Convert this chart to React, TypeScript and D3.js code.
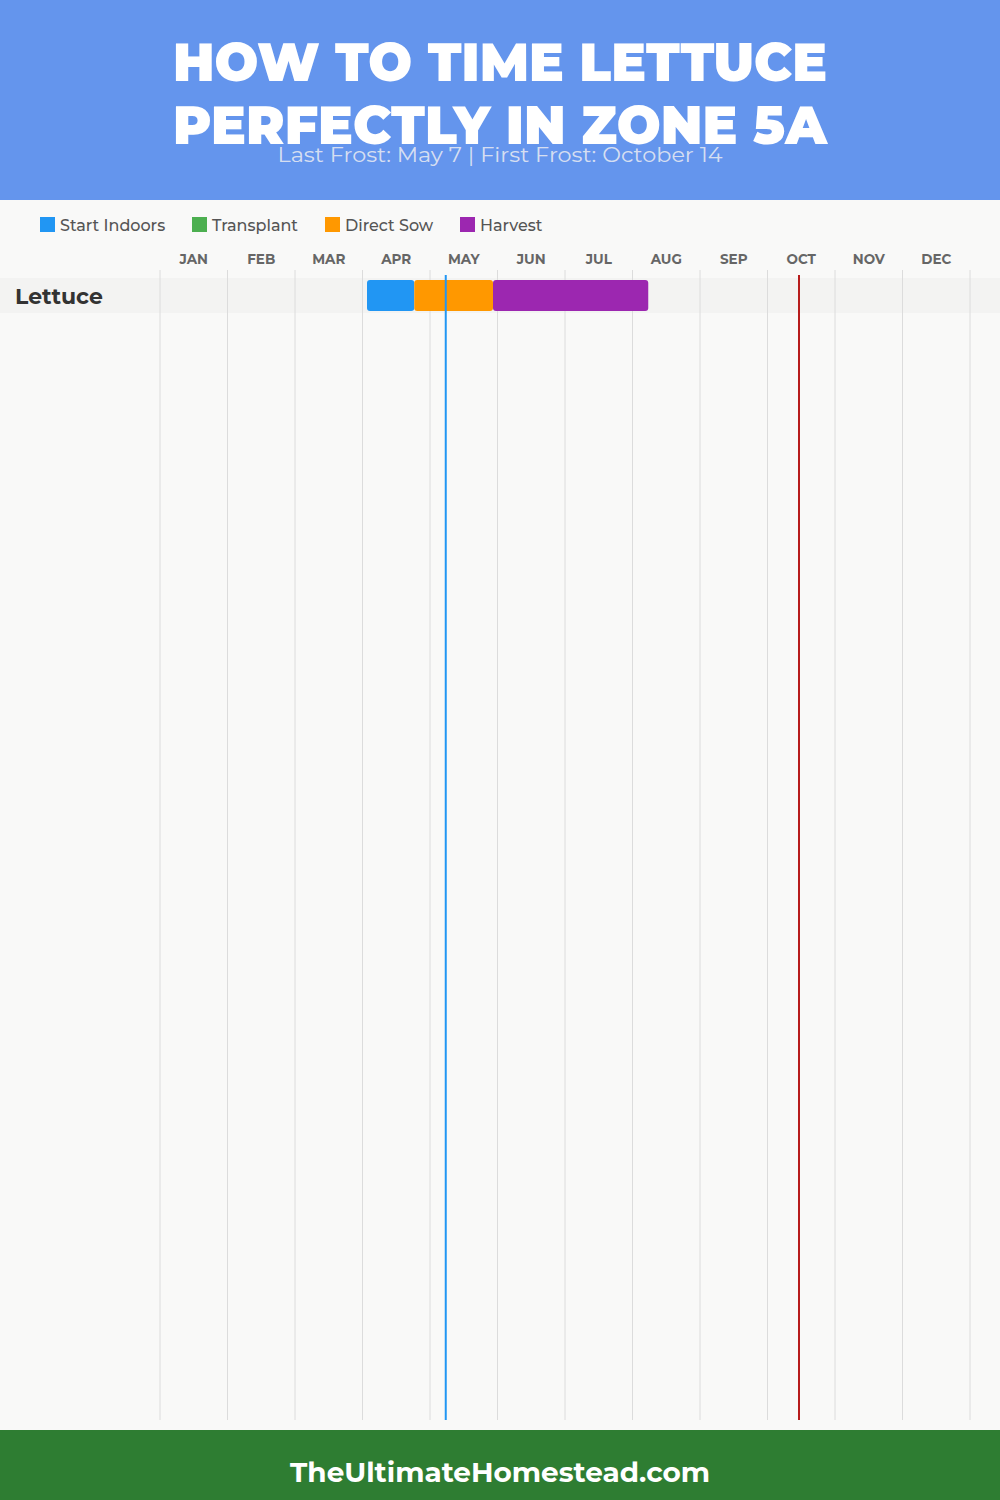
import React from "react";
import * as d3 from "d3";

const months = ["JAN","FEB","MAR","APR","MAY","JUN","JUL","AUG","SEP","OCT","NOV","DEC"];
const legendItems = ["Start Indoors", "Transplant", "Direct Sow", "Harvest"];
const legendColors = ["#2196F3", "#4CAF50", "#FF9800", "#9C27B0"];
const crops = ["Lettuce"];
// [crop, phase, startMonth, startDay, endMonth, endDay]
const phases: [string, string, number, number, number, number][] = [
  ["Lettuce", "Start Indoors", 4, 2, 4, 23],
  ["Lettuce", "Direct Sow", 4, 23, 5, 28],
  ["Lettuce", "Harvest", 5, 28, 8, 7],
];
const lastFrost: [number, number] = [5, 7];
const firstFrost: [number, number] = [10, 14];
const titleLines = ["HOW TO TIME LETTUCE", "PERFECTLY IN ZONE 5A"];
const subtitle = "Last Frost: May 7 | First Frost: October 14";
const footer = "TheUltimateHomestead.com";

const FONT = "Montserrat, 'DejaVu Sans', Inter, sans-serif";

export default function App() {
  const W = 1000, H = 1500;
  const x = d3.scaleLinear().domain([0, 12]).range([160, 970]);
  const dv = (m: number, d: number) => m - 1 + d / 30;
  const color = d3.scaleOrdinal<string, string>().domain(legendItems).range(legendColors);
  const y = d3.scaleBand().domain(crops).range([278, 278 + 35 * crops.length]).padding(0);
  const gridTop = 270, gridBot = 1420;
  const legendX = [40, 192, 325, 460];

  return (
    <svg width={W} height={H} style={{ display: "block", position: "absolute", left: 0, top: 0 }} fontFamily={FONT}>
      <rect x={0} y={0} width={W} height={H} fill="#f9f9f8" />
      <rect x={0} y={0} width={W} height={200} fill="#6495ED" />
      {titleLines.map((t, i) => (
        <text key={t} x={500} y={81 + i * 63} textAnchor="middle" fill="#fff" fontWeight={900} fontSize={54}
          textLength={654} lengthAdjust="spacingAndGlyphs">{t}</text>
      ))}
      <text x={500} y={162} textAnchor="middle" fill="#e6e9f2" fillOpacity={0.9} fontSize={20}
        textLength={445} lengthAdjust="spacingAndGlyphs">{subtitle}</text>

      {legendItems.map((l, i) => (
        <g key={l}>
          <rect x={legendX[i]} y={217} width={15} height={15} fill={color(l)} />
          <text x={legendX[i] + 20} y={230.5} fontSize={16} fontWeight={500} fill="#555">{l}</text>
        </g>
      ))}

      {months.map((m, i) => (
        <text key={m} x={x(i + 0.5)} y={264} textAnchor="middle" fontSize={13.5} fontWeight={700} fill="#666">{m}</text>
      ))}

      {crops.map((c) => (
        <rect key={c} x={0} y={y(c)!} width={W} height={y.bandwidth()} fill="#f3f3f2" />
      ))}

      {d3.range(13).map((i) => (
        <line key={i} x1={x(i)} x2={x(i)} y1={gridTop} y2={gridBot} stroke="#dcdcdc" strokeWidth={1} />
      ))}

      {crops.map((c) => (
        <text key={c} x={15} y={y(c)! + y.bandwidth() / 2 + 8} fontSize={22} fontWeight={700} fill="#333">{c}</text>
      ))}

      {phases.map(([c, p, sm, sd, em, ed]) => (
        <rect key={p} x={x(dv(sm, sd))} y={y(c)! + 2} width={x(dv(em, ed)) - x(dv(sm, sd))} height={y.bandwidth() - 4}
          rx={3} fill={color(p)} />
      ))}

      <line x1={x(dv(...lastFrost))} x2={x(dv(...lastFrost))} y1={275} y2={gridBot} stroke="#2196F3" strokeWidth={2} />
      <line x1={x(dv(...firstFrost))} x2={x(dv(...firstFrost))} y1={275} y2={gridBot} stroke="#B71C1C" strokeWidth={2} />

      <rect x={0} y={1430} width={W} height={70} fill="#2E7D32" />
      <text x={500} y={1482} textAnchor="middle" fill="#fff" fontWeight={700} fontSize={28}
        textLength={420} lengthAdjust="spacingAndGlyphs">{footer}</text>
    </svg>
  );
}
